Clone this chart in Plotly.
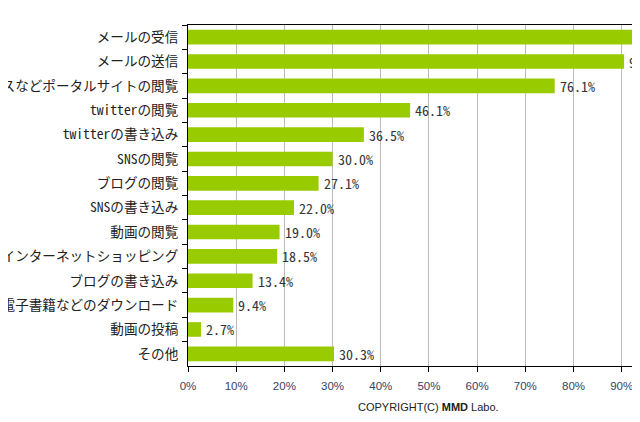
import plotly.graph_objects as go

categories = [
    "メールの受信",
    "メールの送信",
    "ニュースなどポータルサイトの閲覧",
    "twitterの閲覧",
    "twitterの書き込み",
    "SNSの閲覧",
    "ブログの閲覧",
    "SNSの書き込み",
    "動画の閲覧",
    "インターネットショッピング",
    "ブログの書き込み",
    "電子書籍などのダウンロード",
    "動画の投稿",
    "その他",
]
values = [92.3, 90.5, 76.1, 46.1, 36.5, 30.0, 27.1, 22.0, 19.0, 18.5, 13.4, 9.4, 2.7, 30.3]
tick_vals = [0, 10, 20, 30, 40, 50, 60, 70, 80, 90]
tick_text = ["0%", "10%", "20%", "30%", "40%", "50%", "60%", "70%", "80%", "90%"]

MONO = "Noto Sans Mono CJK JP, DejaVu Sans Mono, Noto Sans CJK JP"

# page body has an 8px default margin; layout numbers compensate for it
ML, MT, MB, MR = 180, 17, 64, 8
W, H = 640, 422
plot_w = W - ML - MR
plot_h = H - MT - MB

fig = go.Figure(
    go.Bar(
        x=values,
        y=categories,
        orientation="h",
        marker=dict(color="#99CC00", line=dict(width=0)),
        cliponaxis=False,
    )
)

for cat, v in zip(categories, values):
    fig.add_annotation(
        x=v,
        y=cat,
        xref="x",
        yref="y",
        text=f"{v:.1f}%",
        xanchor="left",
        yanchor="middle",
        xshift=3,
        showarrow=False,
        font=dict(family=MONO, size=14, color="#333333"),
    )

fig.add_annotation(
    text="COPYRIGHT(C) <b>MMD</b> Labo.",
    xref="paper",
    yref="paper",
    x=(420 - ML) / plot_w,
    y=-(399 - (H - MB)) / plot_h,
    xanchor="center",
    yanchor="middle",
    showarrow=False,
    font=dict(family="Liberation Sans", size=11, color="#222222"),
)

fig.update_layout(
    width=W,
    height=H,
    margin=dict(l=ML, r=MR, t=MT, b=MB),
    paper_bgcolor="white",
    plot_bgcolor="white",
    bargap=0.4,
    showlegend=False,
    font=dict(family="Noto Sans CJK JP", size=12, color="#333333"),
)

fig.update_xaxes(
    range=[0, 93.8],
    tickvals=tick_vals,
    ticktext=tick_text,
    showgrid=True,
    gridcolor="#BBBBBB",
    gridwidth=1,
    showline=True,
    linecolor="black",
    linewidth=1,
    mirror=True,
    ticks="outside",
    ticklen=5,
    tickcolor="black",
    ticklabelstandoff=4,
    tickfont=dict(family="Liberation Sans", size=11.5, color="#334466"),
    zeroline=False,
    fixedrange=True,
)
fig.update_yaxes(
    categoryorder="array",
    categoryarray=categories,
    range=[13.5, -0.5],
    tickson="boundaries",
    ticks="outside",
    ticklen=5,
    tickcolor="black",
    showline=True,
    linecolor="black",
    linewidth=1,
    showgrid=False,
    automargin=False,
    ticklabelstandoff=6,
    tickfont=dict(family=MONO, size=13.6, color="#222222"),
    fixedrange=True,
)

fig.write_html("out.html")
